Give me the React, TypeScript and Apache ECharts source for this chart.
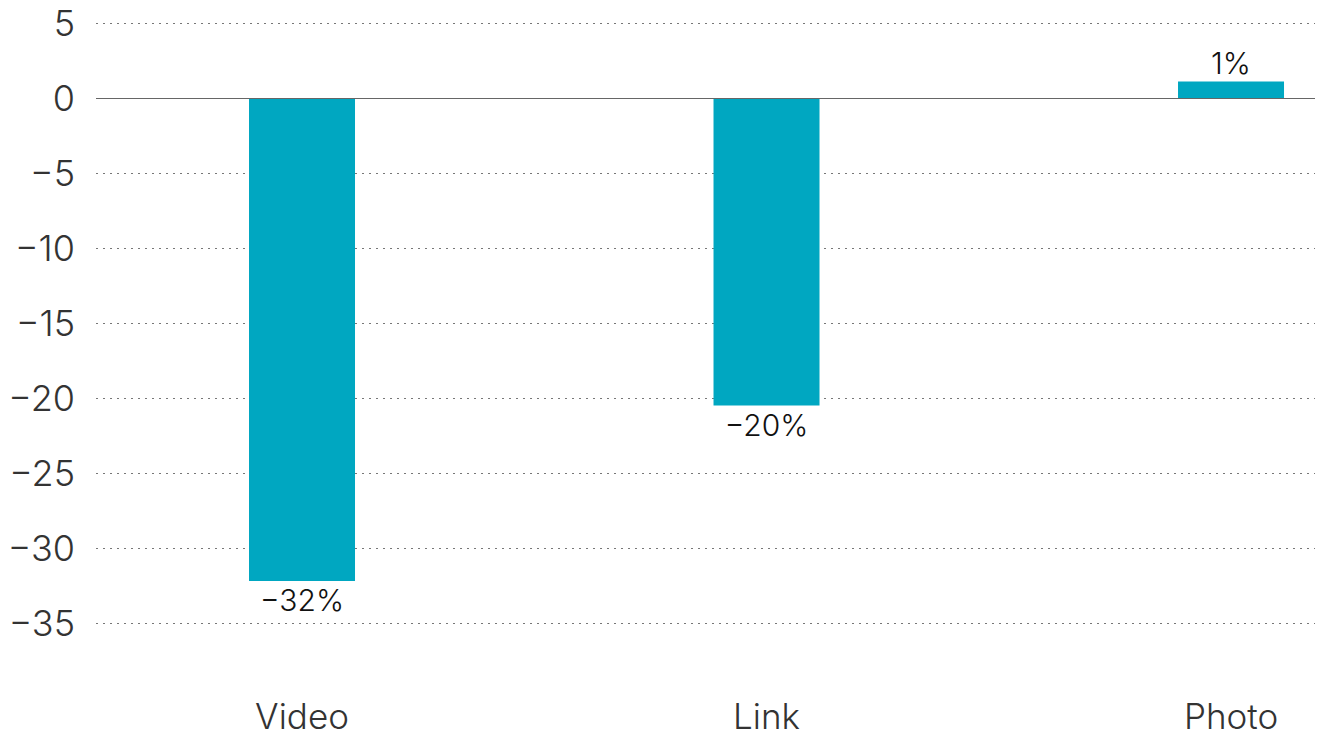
import React, { useEffect, useRef } from "react";
import * as echarts from "echarts";

const categories = ["Video", "Link", "Photo"];
const values = [-32.2, -20.5, 1.1];
const valueLabels = ["-32%", "-20%", "1%"];
const yTicks = { min: -35, max: 5, interval: 5 };

const FONT = "Inter, 'Noto Sans', sans-serif";
const BAR_COLOR = "#00A7C1";

const minus = (s: string) => s.replace("-", "\u2212");

export default function App() {
  const ref = useRef<HTMLDivElement>(null);
  useEffect(() => {
    if (!ref.current) return;
    const chart = echarts.init(ref.current, undefined, { renderer: "svg" });
    const data = values.map((v, i) => ({
      value: [i, v],
      label: {
        show: true,
        position: v < 0 ? "bottom" : "top",
        distance: 4,
        formatter: () => minus(valueLabels[i]),
      },
    }));
    chart.setOption({
      animation: false,
      backgroundColor: "#ffffff",
      grid: { left: 96, right: 2, top: 23, bottom: 114, containLabel: false },
      xAxis: {
        type: "value",
        min: -0.4435,
        max: 2.1808,
        axisLine: { show: false },
        axisTick: { show: false },
        splitLine: { show: false },
        axisLabel: {
          customValues: categories.map((_, i) => i),
          formatter: (v: number) => categories[Math.round(v)] ?? "",
          margin: 79,
          fontSize: 35,
          lineHeight: 28,
          fontFamily: FONT,
          fontWeight: 300,
          color: "#333333",
        },
      },
      yAxis: {
        type: "value",
        min: yTicks.min,
        max: yTicks.max,
        interval: yTicks.interval,
        axisLine: { show: false },
        axisTick: { show: false },
        splitLine: {
          show: true,
          lineStyle: { color: "#777777", width: 1, type: [2, 5] },
        },
        axisLabel: {
          formatter: (v: number) => minus(String(v)),
          margin: 21,
          fontSize: 36,
          fontFamily: FONT,
          fontWeight: 300,
          color: "#333333",
        },
      },
      series: [
        {
          type: "bar",
          barWidth: 106,
          data,
          itemStyle: { color: BAR_COLOR },
          label: {
            fontSize: 30,
            fontFamily: FONT,
            fontWeight: 300,
            color: "#111111",
          },
          markLine: {
            silent: true,
            symbol: "none",
            label: { show: false },
            lineStyle: { color: "#666666", width: 1, type: "solid" },
            data: [{ yAxis: 0 }],
          },
        },
      ],
    });
    return () => chart.dispose();
  }, []);
  return (
    <div
      ref={ref}
      style={{ position: "absolute", left: 0, top: 0, width: 1317, height: 737 }}
    />
  );
}
